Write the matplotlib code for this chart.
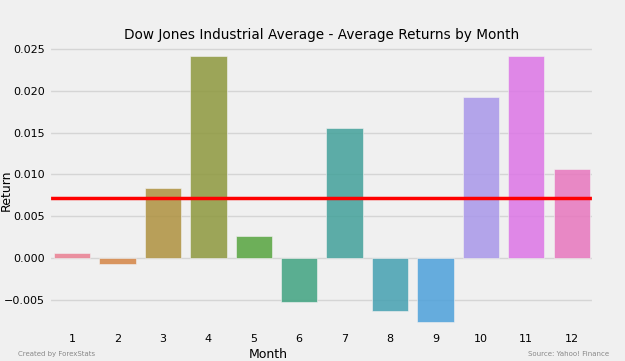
import matplotlib
matplotlib.use('Agg')
import matplotlib.pyplot as plt
import seaborn as sns

plt.style.use('fivethirtyeight')

months = ['1', '2', '3', '4', '5', '6', '7', '8', '9', '10', '11', '12']
avg_returns = [0.0006, -0.0007, 0.0084, 0.0241, 0.0026, -0.0053,
               0.0156, -0.0064, -0.0077, 0.0193, 0.0241, 0.0107]
overall_mean = 0.0072

colors = [sns.desaturate(c, 0.8) for c in sns.color_palette('husl', 12)]

fig = plt.figure(figsize=(6.25, 3.61), dpi=100)
ax = fig.add_axes([0.079, 0.0886, 0.872, 0.792])

ax.bar(months, avg_returns, width=0.8, color=colors, alpha=0.85,
       edgecolor='#f0f0f0', linewidth=0.5)
ax.axhline(overall_mean, color='red', linewidth=2.5)

ax.set_xlim(-0.5, 11.5)
ax.set_ylim(-0.0085, 0.0257)
ax.set_yticks([-0.005, 0.0, 0.005, 0.01, 0.015, 0.02, 0.025])
ax.set_yticklabels(['\u22120.005', '0.000', '0.005', '0.010', '0.015', '0.020', '0.025'])
ax.tick_params(axis='both', labelsize=8)
ax.grid(axis='x', visible=False)
ax.grid(axis='y', color='#d5d5d5', linewidth=1)

ax.set_title('Dow Jones Industrial Average - Average Returns by Month',
             fontsize=9.8, pad=3)
fig.text(268 / 625, 1 - 355 / 361, 'Month', fontsize=9, ha='center', va='center')
fig.text(6 / 625, 1 - 190 / 361, 'Return', fontsize=9, ha='center', va='center',
         rotation=90)

fig.text(0.028, 0.013, 'Created by ForexStats', fontsize=5, color='#888888')
fig.text(0.975, 0.013, 'Source: Yahoo! Finance', fontsize=5, color='#888888', ha='right')

fig.savefig('out.png', dpi=100, facecolor='#f0f0f0')
